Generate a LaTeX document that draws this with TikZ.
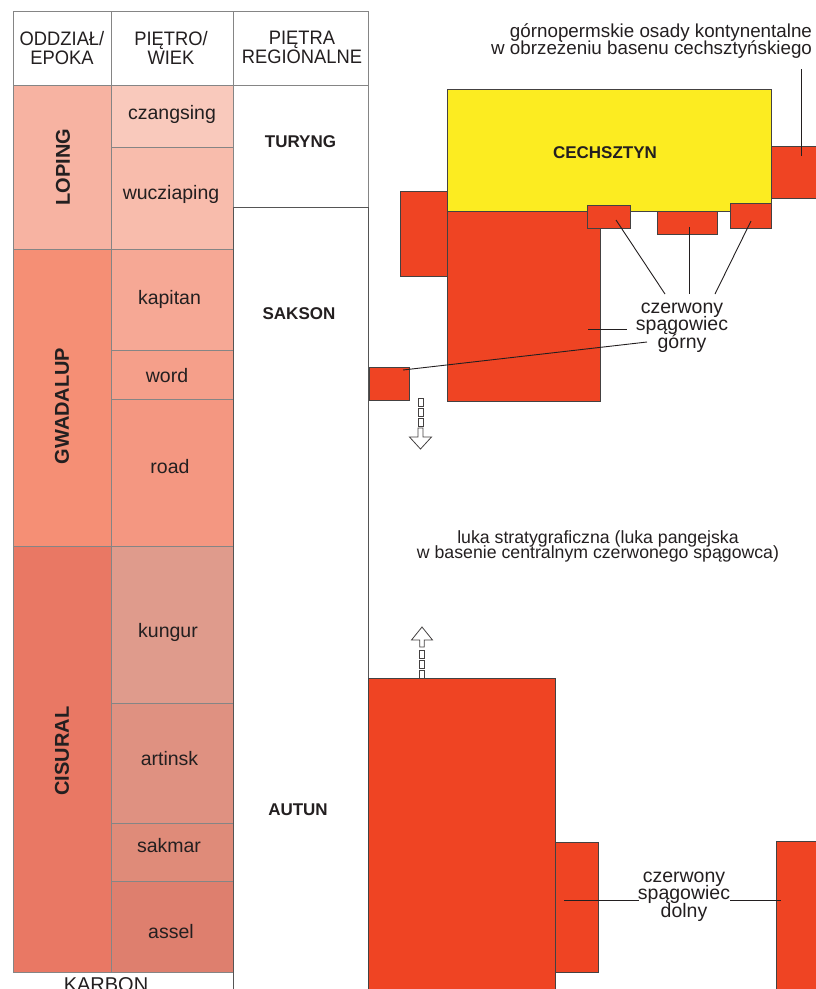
\documentclass[tikz,border=0pt]{standalone}
\usepackage{fontspec}
\setmainfont{Liberation Sans}
\newfontfamily\headfont[FakeStretch=0.94]{Liberation Sans}
\setlength{\lineskiplimit}{-40pt}
\definecolor{ink}{HTML}{231F20}
\definecolor{gridgray}{HTML}{858585}
\definecolor{boxgray}{HTML}{555555}
\definecolor{lopingC}{HTML}{F7B3A2}
\definecolor{czangsingC}{HTML}{F9C9BC}
\definecolor{wucziapingC}{HTML}{F8BCAC}
\definecolor{gwadalupC}{HTML}{F58F75}
\definecolor{kapitanC}{HTML}{F6A895}
\definecolor{wordC}{HTML}{F59F8A}
\definecolor{roadC}{HTML}{F49781}
\definecolor{cisuralC}{HTML}{E97864}
\definecolor{kungurC}{HTML}{DF9B8C}
\definecolor{artinskC}{HTML}{DF9181}
\definecolor{sakmarC}{HTML}{DF8B79}
\definecolor{asselC}{HTML}{DE7F6E}
\definecolor{redC}{HTML}{EF4423}
\definecolor{yellowC}{HTML}{FCEC21}
\begin{document}
\begin{tikzpicture}[x=1pt,y=-1pt,
  every node/.style={inner sep=0pt, outer sep=0pt, text=ink},
  cell/.style={draw=gridgray, line width=0.8pt, anchor=north west, rectangle},
  regbox/.style={draw=boxgray, line width=0.9pt, anchor=north west, rectangle, fill=white},
  redbox/.style={draw=ink!85, line width=0.9pt, fill=redC, anchor=north west, rectangle},
  headtext/.style={align=center, font=\headfont\fontsize{19.5}{19}\selectfont},
  epochtext/.style={rotate=90, font=\bfseries\fontsize{20}{20}\selectfont},
  stagetext/.style={anchor=base, font=\fontsize{19.5}{19.5}\selectfont},
  regtext/.style={anchor=base, font=\bfseries\fontsize{17}{17}\selectfont},
  note/.style={align=center, font=\fontsize{19.5}{17.5}\selectfont},
  leader/.style={draw=ink, line width=0.9pt},
  hollow/.style={draw=ink!85, line width=0.8pt, fill=white}
]
\useasboundingbox (0,0) rectangle (816,989);
\clip (0,0) rectangle (816,989);

% ---------- stratigraphic table: header ----------
\node[cell, fill=white, minimum width=98pt, minimum height=74pt] (hEpoch) at (13,11) {};
\node[cell, fill=white, minimum width=122pt, minimum height=74pt] (hStage) at (111,11) {};
\node[cell, fill=white, minimum width=135pt, minimum height=74pt] (hRegion) at (233,11) {};
\node[headtext] (tEpoch) at (62,47.7) {ODDZIAŁ/\\EPOKA};
\node[headtext] (tStage) at (171,47.7) {PIĘTRO/\\WIEK};
\node[headtext] (tRegion) at (302,47.7) {PIĘTRA\\REGIONALNE};

% ---------- epochs ----------
\node[cell, fill=lopingC, minimum width=98pt, minimum height=164pt] (loping) at (13,85) {};
\node[cell, fill=gwadalupC, minimum width=98pt, minimum height=297pt] (gwadalup) at (13,249) {};
\node[cell, fill=cisuralC, minimum width=98pt, minimum height=426pt] (cisural) at (13,546) {};
\node[epochtext] (tLoping) at (63,167) {LOPING};
\node[epochtext] (tGwadalup) at (62,406) {GWADALUP};
\node[epochtext] (tCisural) at (62,751) {CISURAL};

% ---------- stages ----------
\node[cell, fill=czangsingC, minimum width=122pt, minimum height=62pt] (czangsing) at (111,85) {};
\node[cell, fill=wucziapingC, minimum width=122pt, minimum height=102pt] (wucziaping) at (111,147) {};
\node[cell, fill=kapitanC, minimum width=122pt, minimum height=101pt] (kapitan) at (111,249) {};
\node[cell, fill=wordC, minimum width=122pt, minimum height=49pt] (word) at (111,350) {};
\node[cell, fill=roadC, minimum width=122pt, minimum height=147pt] (road) at (111,399) {};
\node[cell, fill=kungurC, minimum width=122pt, minimum height=157pt] (kungur) at (111,546) {};
\node[cell, fill=artinskC, minimum width=122pt, minimum height=120pt] (artinsk) at (111,703) {};
\node[cell, fill=sakmarC, minimum width=122pt, minimum height=58pt] (sakmar) at (111,823) {};
\node[cell, fill=asselC, minimum width=122pt, minimum height=91pt] (assel) at (111,881) {};
\node[stagetext] (tCzangsing) at (172,119) {czangsing};
\node[stagetext] (tWucziaping) at (171,199) {wucziaping};
\node[stagetext] (tKapitan) at (169.5,304) {kapitan};
\node[stagetext] (tWord) at (167,382) {word};
\node[stagetext] (tRoad) at (170,473) {road};
\node[stagetext] (tKungur) at (168,637) {kungur};
\node[stagetext] (tArtinsk) at (169.5,765) {artinsk};
\node[stagetext] (tSakmar) at (169,852) {sakmar};
\node[stagetext] (tAssel) at (171,938) {assel};

% ---------- regional stages ----------
\node[cell, fill=white, minimum width=135pt, minimum height=122pt] (turyng) at (233,85) {};
\node[regbox, minimum width=135pt, minimum height=800pt] (saksonautun) at (233,207) {};
\node[regtext] (tTuryng) at (300.5,147) {TURYNG};
\node[regtext] (tSakson) at (299,319) {SAKSON};
\node[regtext] (tAutun) at (298,815) {AUTUN};

\node[anchor=base, font=\fontsize{20}{20}\selectfont] (karbon) at (106,991) {KARBON};

% ---------- upper red beds and the Zechstein ----------
\node[redbox, minimum width=153pt, minimum height=190pt] (upperMain) at (447,211) {};
\node[redbox, minimum width=47pt, minimum height=85pt] (upperLeft) at (400,191) {};
\node[draw=ink!85, line width=0.9pt, fill=yellowC, anchor=north west, rectangle,
      minimum width=324pt, minimum height=122pt] (zechstein) at (447,89) {};
\node[regtext] (tZechstein) at (605,158) {CECHSZTYN};
\node[redbox, minimum width=60pt, minimum height=52pt] (marginRed) at (771,146) {};
\node[redbox, minimum width=60pt, minimum height=23pt] (tongueB) at (657,211) {};
\node[redbox, minimum width=43pt, minimum height=23pt] (tongueA) at (587,205) {};
\node[redbox, minimum width=41pt, minimum height=25pt] (tongueC) at (730,203) {};
\node[redbox, minimum width=40pt, minimum height=33pt] (upperSmall) at (369,367) {};

% ---------- lower red beds ----------
\node[redbox, minimum width=187pt, minimum height=330pt] (lowerMain) at (368,678) {};
\node[redbox, minimum width=43pt, minimum height=130pt] (lowerStep) at (555,842) {};
\node[redbox, minimum width=60pt, minimum height=160pt] (lowerRight) at (776,841) {};

% ---------- labels ----------
\node[anchor=east, align=right, font=\fontsize{18.8}{17}\selectfont] (tMargin) at (812,41.5)
  {górnopermskie osady kontynentalne\\w obrzeżeniu basenu cechsztyńskiego};
\node[note] (tUpper) at (682,327.5) {czerwony\\spągowiec\\górny};
\node[note] (tLower) at (684,896.5) {czerwony\\spągowiec\\dolny};
\node[align=center, font=\fontsize{17.7}{15}\selectfont] (tGap) at (598,546)
  {luka stratygraficzna (luka pangejska\\w basenie centralnym czerwonego spągowca)};

% ---------- leader lines ----------
\coordinate (mTop) at (801,69);   \coordinate (mIn) at (801,156);
\coordinate (aIn) at (616,220);   \coordinate (aOut) at (665,294);
\coordinate (bIn) at (689,227);   \coordinate (bOut) at (689,294);
\coordinate (cIn) at (751,221);   \coordinate (cOut) at (715,294);
\coordinate (mainIn) at (588,329); \coordinate (mainOut) at (627,329);
\coordinate (smallIn) at (403,370); \coordinate (smallOut) at (647,342);
\coordinate (stepIn) at (564,900); \coordinate (stepOut) at (639,900);
\coordinate (rightOut) at (730,900); \coordinate (rightIn) at (781,900);
\draw[leader] (mTop) -- (mIn);
\draw[leader] (aIn) -- (aOut);
\draw[leader] (bIn) -- (bOut);
\draw[leader] (cIn) -- (cOut);
\draw[leader] (mainIn) -- (mainOut);
\draw[leader] (smallIn) -- (smallOut);
\draw[leader] (stepIn) -- (stepOut);
\draw[leader] (rightOut) -- (rightIn);

% ---------- hollow dashed arrows across the gap ----------
\coordinate (downStart) at (420.5,398);
\foreach \k in {0,1,2}
  \draw[hollow, shift={(downStart)}] (-2.5,\k*10) rectangle ++(5,8);
\draw[hollow, shift={(downStart)}] (-2.5,30) -- (2.5,30) -- (2.5,39) -- (11,39)
  -- (0,51) -- (-11,39) -- (-2.5,39) -- cycle;

\coordinate (upStart) at (422,678);
\foreach \k in {0,1,2}
  \draw[hollow, shift={(upStart)}] (-2.25,-\k*10) rectangle ++(4.5,-8);
\draw[hollow, shift={(upStart)}] (-2.25,-31) -- (2.25,-31) -- (2.25,-38) -- (10.5,-38)
  -- (0,-51) -- (-10.5,-38) -- (-2.25,-38) -- cycle;
\end{tikzpicture}
\end{document}
